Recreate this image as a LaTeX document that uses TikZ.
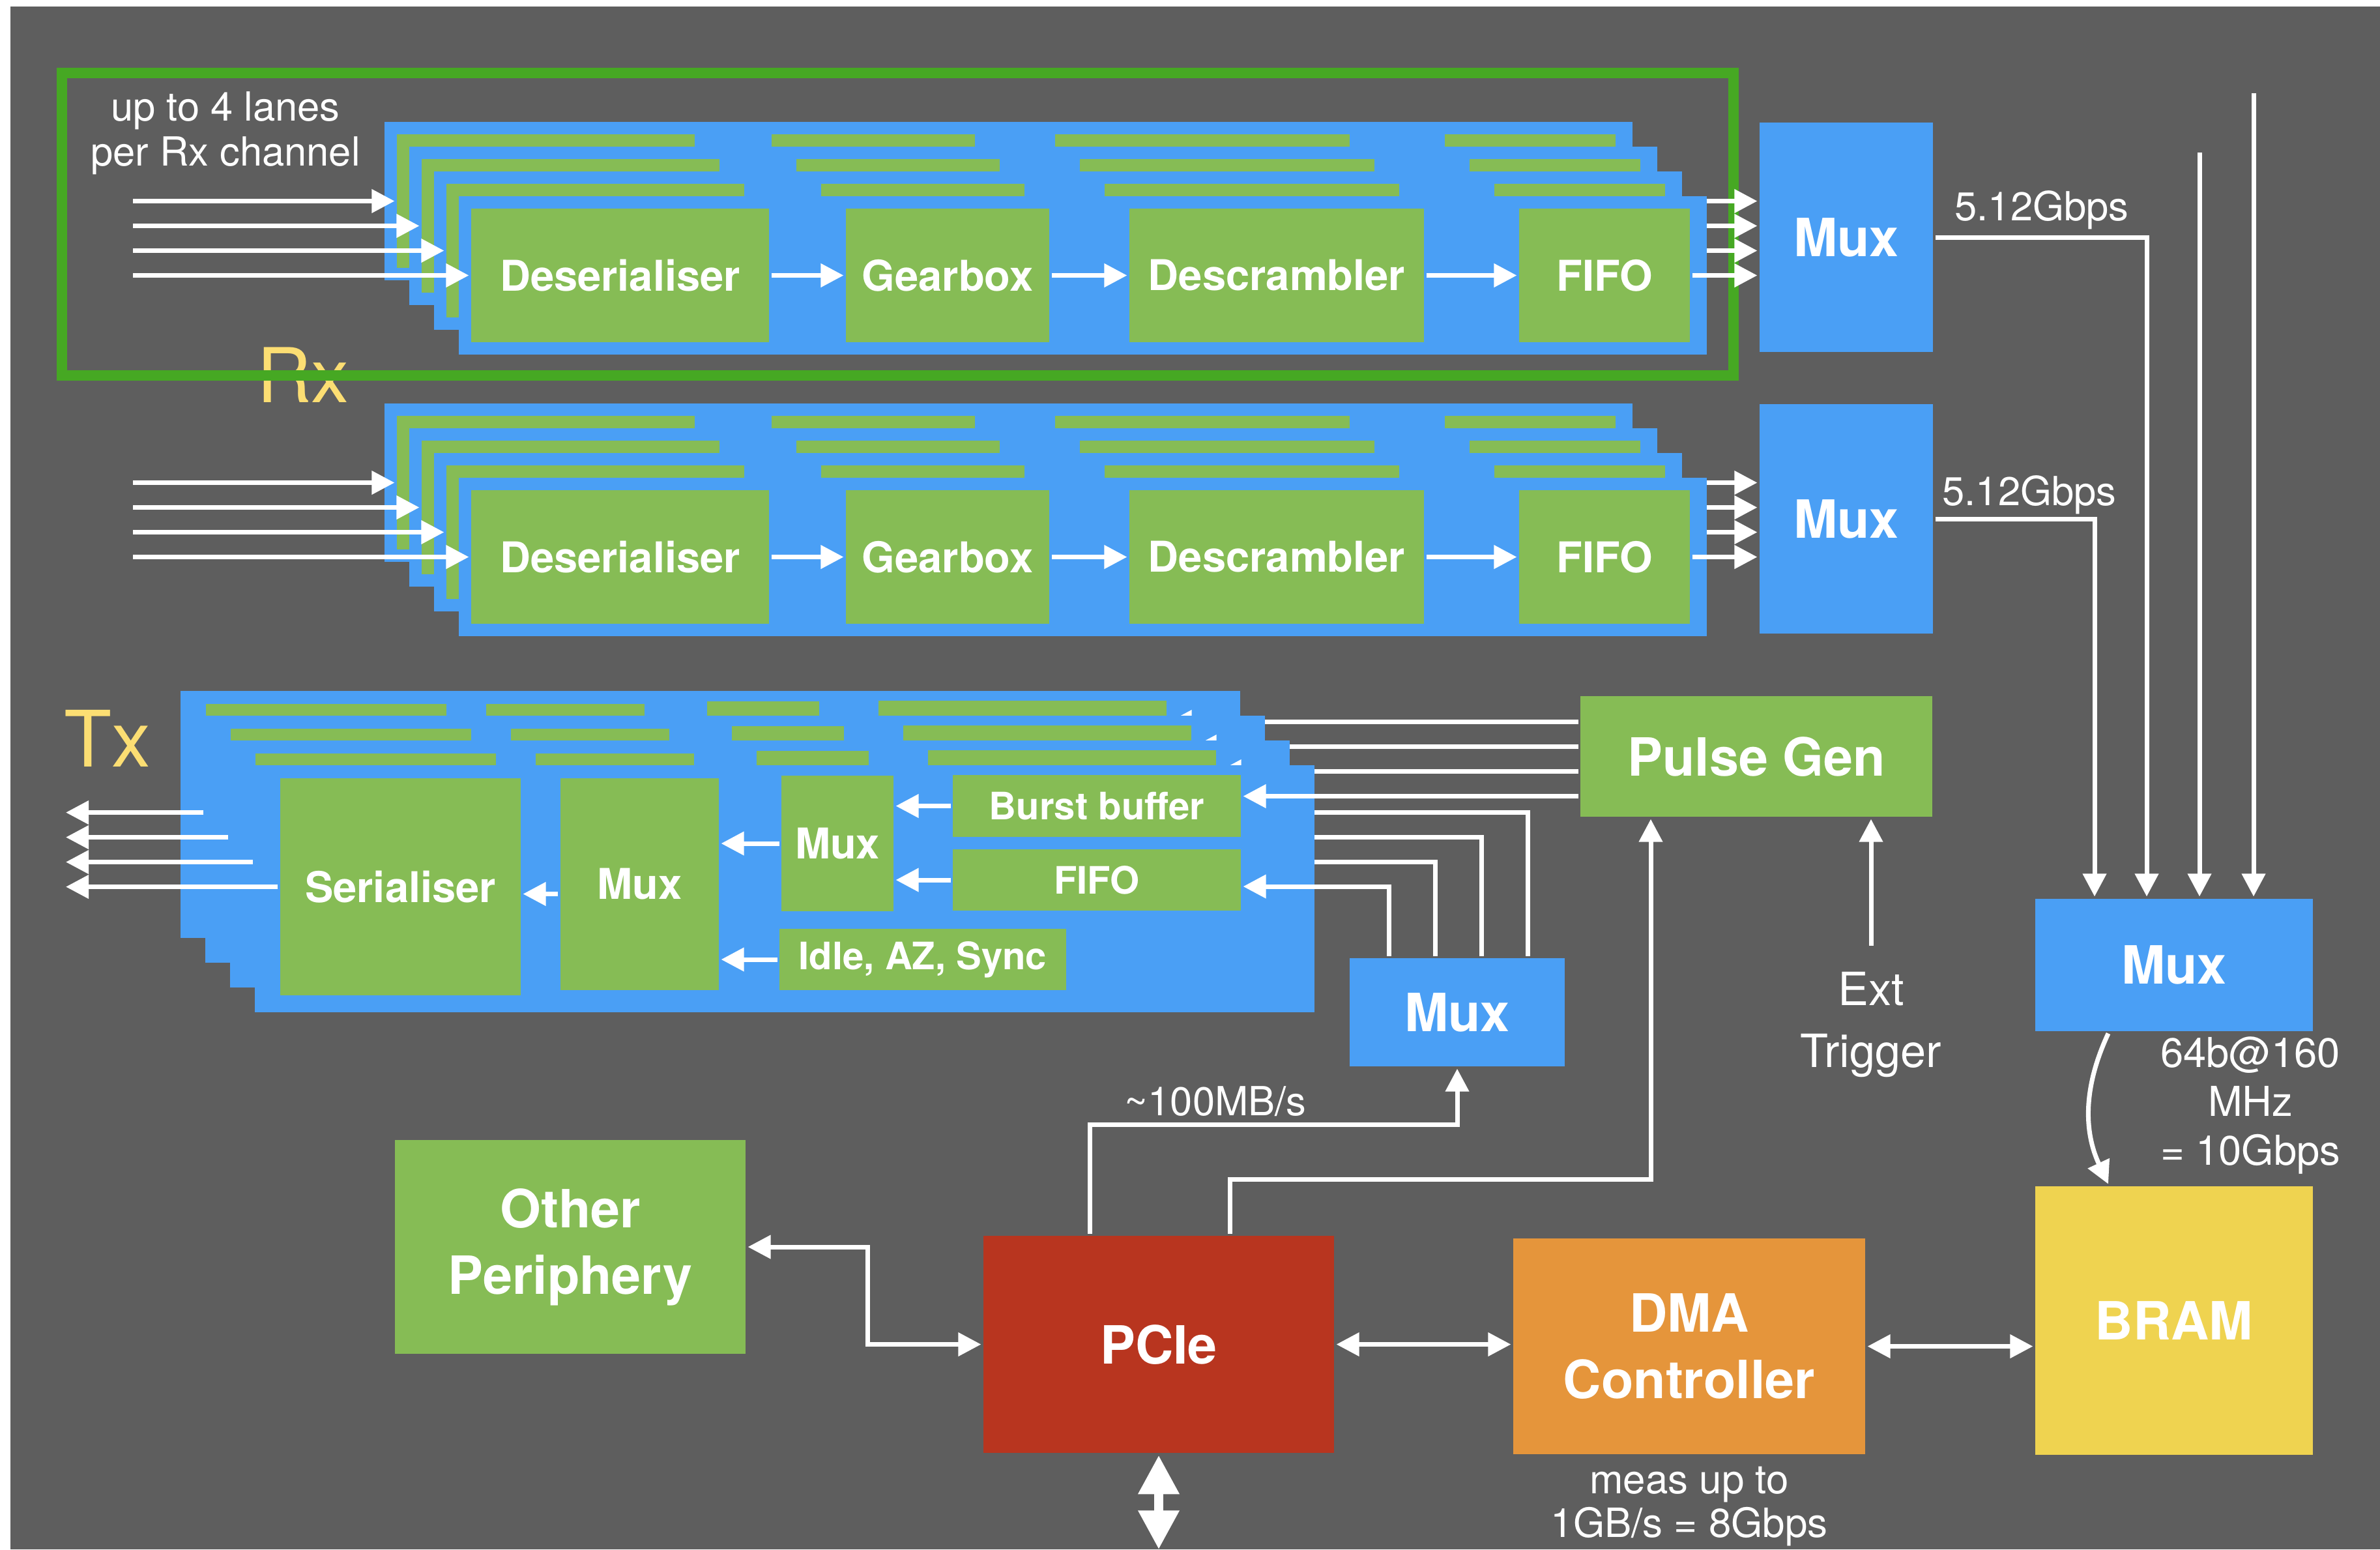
\documentclass[tikz,border=0pt]{standalone}
\usepackage{fontspec}
\setmainfont{TeX Gyre Heros}
\usetikzlibrary{arrows.meta}

\definecolor{bggrey}{RGB}{94,94,94}
\definecolor{plateblue}{RGB}{74,159,245}
\definecolor{boxgreen}{RGB}{134,188,85}
\definecolor{framegreen}{RGB}{70,168,35}
\definecolor{pciered}{RGB}{184,53,31}
\definecolor{dmaorange}{RGB}{229,149,59}
\definecolor{bramyellow}{RGB}{239,211,80}
\definecolor{sidetext}{RGB}{252,222,115}

% text only on the front plate of a stack
\newcommand\front[1]{\ifnum\k=3 #1\fi}

\begin{document}
\begin{tikzpicture}[%
        line width = 2pt,
        arr/.style = {draw = white, -{Triangle[width=10pt,length=10pt]}},
        arrs/.style = {draw = white, {Triangle[width=10pt,length=10pt]}-{Triangle[width=10pt,length=10pt]}},
        blk/.style = {rectangle, inner sep = 0pt, text = white, align = center,
                      font = \bfseries\fontsize{23}{29}\selectfont},
        rxbox/.style = {blk, fill = boxgreen, minimum height = 2.05cm,
                        font = \bfseries\fontsize{18.5}{22}\selectfont},
        txbox/.style = {blk, fill = boxgreen, font = \bfseries\fontsize{16.5}{20}\selectfont},
        txbig/.style = {txbox, font = \bfseries\fontsize{18.5}{22}\selectfont},
        lbl/.style = {text = white, inner sep = 0pt, align = center,
                      font = \fontsize{17.5}{19.5}\selectfont},
        side/.style = {text = sidetext, inner sep = 0pt, font = \fontsize{33}{33}\selectfont},
        ]

\useasboundingbox (0,0) rectangle (36.52,-23.77);
\fill[white] (0,0) rectangle (36.52,-23.77);
\fill[bggrey] (0.16,-0.10) rectangle (36.52,-23.77);

% Rx channels
\node (rx) [side, anchor = base] at (4.65,-6.17) {Rx};
\node (lanes) [lbl] at (3.46,-2.04) {up to 4 lanes\\per Rx channel};
\draw[framegreen, line width = 0.16cm] (0.95,-1.12) rectangle (26.60,-5.76);

\coordinate (lanex) at (2.04,0);
\node (mux1) [blk, fill = plateblue, minimum width = 2.66cm, minimum height = 3.52cm] at (28.33,-3.64) {Mux};
\node (mux2) [blk, fill = plateblue, minimum width = 2.66cm, minimum height = 3.52cm] at (28.33,-7.96) {Mux};

\foreach \s/\dy in {1/0, 2/-4.32}{
  \foreach \k in {0,...,3}{
    \begin{scope}[shift = {({-0.38*(3-\k)},{\dy+0.38*(3-\k)})}]
    \fill[plateblue] (7.04,-3.01) rectangle (26.19,-5.44);
    \node (des\s\k) [rxbox, minimum width = 4.57cm] at (9.515,-4.225) {\front{Deserialiser}};
    \node (gear\s\k) [rxbox, minimum width = 3.12cm] at (14.54,-4.225) {\front{Gearbox}};
    \node (descr\s\k) [rxbox, minimum width = 4.52cm] at (19.59,-4.225) {\front{Descrambler}};
    \node (fifo\s\k) [rxbox, minimum width = 2.62cm] at (24.62,-4.225) {\front{FIFO}};
    \draw[arr] (des\s\k.west -| lanex) -- (des\s\k);
    \draw[arr] (des\s\k) -- (gear\s\k);
    \draw[arr] (gear\s\k) -- (descr\s\k);
    \draw[arr] (descr\s\k) -- (fifo\s\k);
    \draw[arr] (fifo\s\k) -- (fifo\s\k.east -| mux\s.west);
    \end{scope}
  }
}

% Tx channel
\node (tx) [side, font = \fontsize{34}{34}\selectfont, anchor = base] at (1.65,-11.76) {Tx};
\node (pulse) [blk, fill = boxgreen, minimum width = 5.40cm, minimum height = 1.85cm] at (26.95,-11.605) {Pulse Gen};
\node (txmux) [blk, fill = plateblue, minimum width = 3.30cm, minimum height = 1.66cm] at (22.36,-15.53) {Mux};
\coordinate (txend) at (1.01,0);

\foreach \k in {0,...,3}{
  \begin{scope}[shift = {({-0.38*(3-\k)},{0.38*(3-\k)})}]
  \fill[plateblue] (3.91,-11.74) rectangle (20.17,-15.53);
  \node (ser\k) [txbig, minimum width = 3.69cm, minimum height = 3.33cm] at (6.145,-13.605) {\front{Serialiser}};
  \node (outmux\k) [txbig, minimum width = 2.43cm, minimum height = 3.25cm] at (9.815,-13.565) {\front{Mux}};
  \node (selmux\k) [txbig, minimum width = 1.72cm, minimum height = 2.08cm] at (12.85,-12.94) {\front{Mux}};
  \node (idle\k) [txbox, minimum width = 4.40cm, minimum height = 0.94cm] at (14.16,-14.72) {\front{Idle, AZ, Sync}};
  \node (burst\k) [txbox, minimum width = 4.42cm, minimum height = 0.95cm] at (16.83,-12.365) {\front{Burst buffer}};
  \node (tfifo\k) [txbox, minimum width = 4.42cm, minimum height = 0.94cm] at (16.83,-13.50) {\front{FIFO}};
  \draw[arr] (burst\k) -- (burst\k.west -| selmux\k.east);
  \draw[arr] (tfifo\k) -- (tfifo\k.west -| selmux\k.east);
  \draw[arr] (selmux\k) -- (selmux\k.west -| outmux\k.east);
  \draw[arr] (idle\k) -- (idle\k.west -| outmux\k.east);
  \coordinate (mo\k) at ([yshift=-0.15cm]outmux\k.west);
  \draw[arr] (mo\k) -- (mo\k -| ser\k.east);
  \draw[arr] (ser\k.west) -- (ser\k.west -| txend);
  % feeds from Pulse Gen and Mux
  \coordinate (pg\k) at ([yshift=0.15cm]burst\k.east);
  \draw[arr] (pg\k -| pulse.west) -- (pg\k);
  \coordinate (fd\k) at ([yshift=-0.10cm]tfifo\k.east);
  \pgfmathsetmacro\vx{-1.05+0.71*(3-\k)}
  \draw[arr] ([xshift=\vx cm]txmux.north) |- (fd\k);
  \end{scope}
}

% readout
\node (other) [blk, fill = boxgreen, minimum width = 5.38cm, minimum height = 3.28cm] at (8.75,-19.13) {Other\\Periphery};
\node (pcie) [blk, fill = pciered, minimum width = 5.38cm, minimum height = 3.33cm] at (17.78,-20.625) {PCIe};
\node (dma) [blk, fill = dmaorange, minimum width = 5.40cm, minimum height = 3.31cm] at (25.92,-20.655) {DMA\\Controller};
\node (mux3) [blk, fill = plateblue, minimum width = 4.26cm, minimum height = 2.03cm] at (33.36,-14.805) {Mux};
\node (bram) [blk, fill = bramyellow, minimum width = 4.26cm, minimum height = 4.12cm] at (33.36,-20.26) {BRAM};

\node (rate1) [lbl, anchor = base] at (31.33,-3.38) {5.12Gbps};
\node (rate2) [lbl, anchor = base] at (31.14,-7.75) {5.12Gbps};
\node (rate) [lbl, anchor = base] at (18.65,-17.11) {\textasciitilde100MB/s};
\node (ext) [lbl, font = \fontsize{20}{27}\selectfont] at (28.71,-15.72) {Ext\\Trigger};
\node (bw) [lbl, font = \fontsize{18}{21.3}\selectfont] at (34.53,-16.96) {64b@160\\MHz\\= 10Gbps};
\node (meas) [lbl, font = \fontsize{17.6}{19.3}\selectfont] at (25.92,-23.11) {meas up to\\1GB/s = 8Gbps};

\coordinate (bus3) at (33.75,-2.34);
\coordinate (bus4) at (34.58,-1.43);
\coordinate (pcieout) at (17.78,-23.77);

\draw[arr] (mux1.east) -| ([xshift=-0.42cm]mux3.north);
\draw[arr] (mux2.east) -| ([xshift=-1.22cm]mux3.north);
\draw[arr] (bus3) -- (bus3 |- mux3.north);
\draw[arr] (bus4) -- (bus4 |- mux3.north);
\draw[arr] ([xshift=-1.01cm]mux3.south) to[bend right=25] ([xshift=-1.01cm]bram.north);

\draw[arr] ([xshift=-1.06cm]pcie.north) -- ++(0,1.67) -| (txmux.south);
\draw[arr] ([xshift=1.09cm]pcie.north) -- ++(0,0.83) -| ([xshift=-1.62cm]pulse.south);
\draw[arr] ([yshift=0.37cm]ext.north) -- (ext.north |- pulse.south);

\draw[arrs] (other.east) -- ++(1.84,0) |- (pcie.west);
\draw[arrs] (pcie.east) -- (pcie.east -| dma.west);
\draw[arrs] (dma.east) -- (dma.east -| bram.west);
\draw[draw = white, line width = 4pt, {Triangle[width=17pt,length=17pt]}-{Triangle[width=17pt,length=17pt]}] (pcie.south) -- (pcieout);

\end{tikzpicture}
\end{document}
